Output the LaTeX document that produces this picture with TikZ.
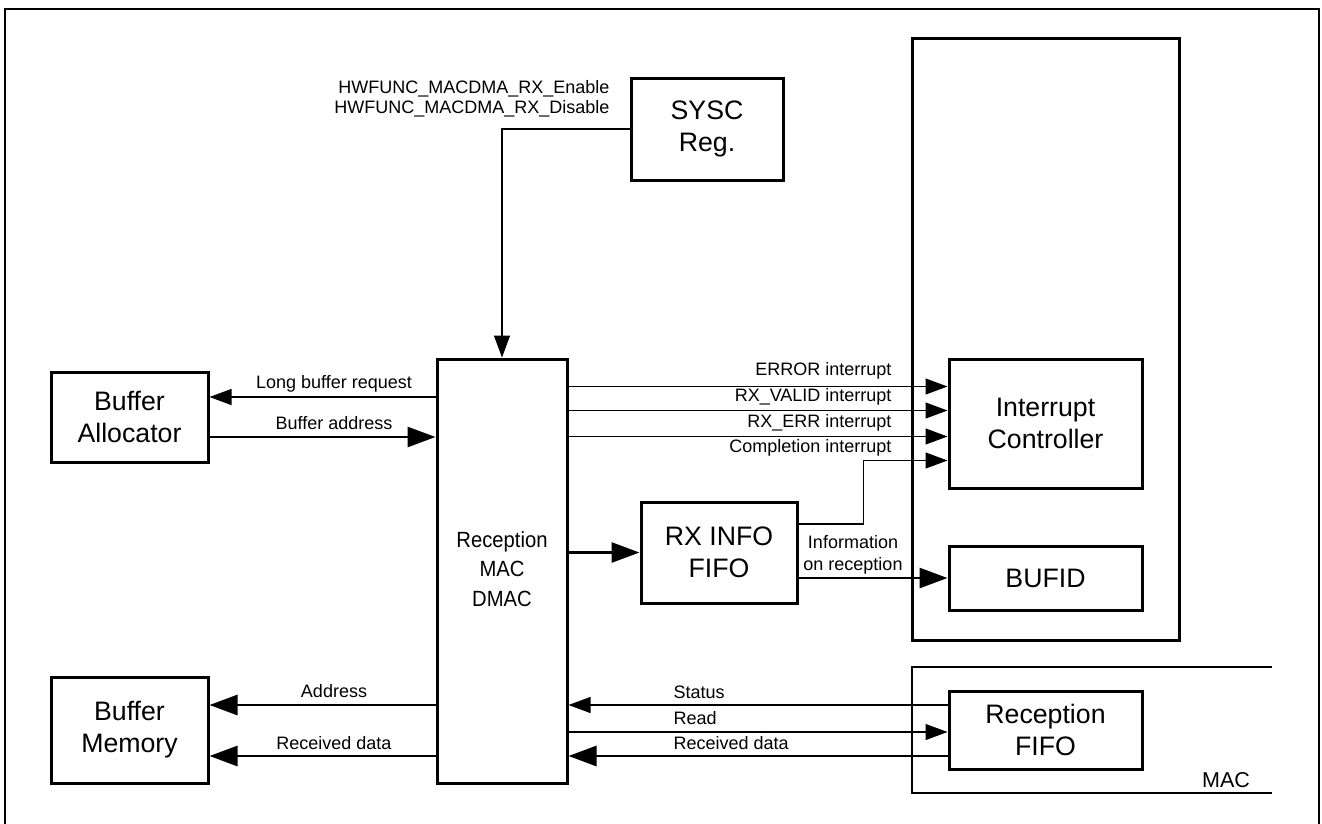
\documentclass[tikz,border=0pt]{standalone}
\usepackage{fontspec}
\usepackage{graphicx}
\setmainfont{Liberation Sans}
\usetikzlibrary{arrows.meta}

\tikzset{every picture/.style={line width=1pt},
	blk/.style={draw, line width=3pt, inner sep=0pt, align=center, font=\fontsize{26.7}{32}\selectfont},
	lbl/.style={inner sep=0pt, font=\fontsize{18}{22}\selectfont},
	sig/.style={line width=1.1pt, -{Triangle[length=22pt,width=16pt]}},
	bus/.style={line width=2.9pt, -{Triangle[length=28pt,width=20pt]}}
}

\begin{document}
\begin{tikzpicture}[x=1pt,y=1pt,yscale=-1,xscale=1]
	\useasboundingbox (0,0) rectangle (1322,823);
	
	%Shape: Frame
	\draw [line width=1.8pt] (5,830) -- (5,9) -- (1319,9) -- (1319,830) ;
	%Shape: Rectangle (outer block, right)
	\node [blk, minimum width=267pt, minimum height=602pt] (cpu) at (1045.5,339) {};
	%Shape: MAC bracket
	\draw [line width=2.5pt] (1272,667) -- (912,667) -- (912,793) -- (1272,793) ;
	\node [inner sep=0pt, font=\fontsize{21.5}{26}\selectfont] (mac) at (1226,780) {MAC};
	
	%Shape: Rectangle
	\node [blk, minimum width=152pt, minimum height=102pt] (sysc) at (707,129) {SYSC\\Reg.};
	%Shape: Rectangle
	\node [blk, minimum width=157pt, minimum height=90pt] (alloc) at (129.5,417) {Buffer\\Allocator};
	%Shape: Rectangle
	\node [blk, minimum width=157pt, minimum height=106pt] (bufmem) at (129.5,730) {Buffer\\Memory};
	%Shape: Rectangle
	\node [blk, minimum width=130pt, minimum height=424pt, font=\fontsize{22}{29.5}\selectfont] (dmac) at (502,571)
		{\scalebox{0.92}[1]{\begin{tabular}{@{}c@{}}Reception\\MAC\\DMAC\end{tabular}}};
	%Shape: Rectangle
	\node [blk, minimum width=156pt, minimum height=101pt] (rxinfo) at (719,552.5) {RX INFO\\FIFO};
	%Shape: Rectangle
	\node [blk, minimum width=193pt, minimum height=129pt] (intc) at (1045.5,423.5) {Interrupt\\Controller};
	%Shape: Rectangle
	\node [blk, minimum width=193pt, minimum height=64pt] (bufid) at (1045.5,578) {BUFID};
	%Shape: Rectangle
	\node [blk, minimum width=193pt, minimum height=78pt] (rxfifo) at (1045.5,730) {Reception\\FIFO};
	
	% port coordinates
	\coordinate (areq) at ([yshift=-20pt]alloc.east);
	\coordinate (aadr) at ([yshift=20pt]alloc.east);
	\coordinate (madr) at ([yshift=-25pt]bufmem.east);
	\coordinate (mdat) at ([yshift=26pt]bufmem.east);
	\coordinate (ierr) at ([yshift=-37pt]intc.west);
	\coordinate (ival) at ([yshift=-13pt]intc.west);
	\coordinate (irxe) at ([yshift=13pt]intc.west);
	\coordinate (icmp) at ([yshift=37pt]intc.west);
	\coordinate (fsta) at ([yshift=-25pt]rxfifo.west);
	\coordinate (frd) at ([yshift=2pt]rxfifo.west);
	\coordinate (fdat) at ([yshift=26pt]rxfifo.west);
	
	%Straight Lines: SYSC to DMAC
	\draw [sig] (sysc.west) -| (dmac.north) ;
	%Straight Lines: buffer allocator
	\draw [sig] (dmac.west |- areq) -- (areq) ;
	\draw [bus] (aadr) -- (dmac.west |- aadr) ;
	%Straight Lines: buffer memory
	\draw [bus] (dmac.west |- madr) -- (madr) ;
	\draw [bus] (dmac.west |- mdat) -- (mdat) ;
	%Straight Lines: interrupts
	\draw [sig] (dmac.east |- ierr) -- (ierr) ;
	\draw [sig] (dmac.east |- ival) -- (ival) ;
	\draw [sig] (dmac.east |- irxe) -- (irxe) ;
	\draw [sig] ([yshift=-28.5pt]rxinfo.east) -- ++(65,0) |- (icmp) ;
	%Straight Lines: RX INFO FIFO
	\draw [bus] (dmac.east |- rxinfo.west) -- (rxinfo.west) ;
	\draw [bus] (rxinfo.east |- bufid.west) -- (bufid.west) ;
	%Straight Lines: reception FIFO
	\draw [sig] (fsta) -- (dmac.east |- fsta) ;
	\draw [sig] (dmac.east |- frd) -- (frd) ;
	\draw [bus] (fdat) -- (dmac.east |- fdat) ;
	
	% Text Node
	\node [lbl, anchor=east, align=right, font=\fontsize{18}{20}\selectfont] (ctrl) at (610,99) {HWFUNC\_MACDMA\_RX\_Enable\\HWFUNC\_MACDMA\_RX\_Disable};
	% Text Node
	\node [lbl] (lreq) at (334,384) {Long buffer request};
	% Text Node
	\node [lbl] (laddr) at (334,423) {Buffer address};
	% Text Node
	\node [lbl] (maddr) at (334,691) {Address};
	% Text Node
	\node [lbl] (mdata) at (334,743) {Received data};
	% Text Node
	\node [lbl, anchor=east] (terr) at (892,371) {ERROR interrupt};
	% Text Node
	\node [lbl, anchor=east] (tval) at (892,397) {RX\_VALID interrupt};
	% Text Node
	\node [lbl, anchor=east] (trxe) at (892,423) {RX\_ERR interrupt};
	% Text Node
	\node [lbl, anchor=east] (tcmp) at (892,448) {Completion interrupt};
	% Text Node
	\node [lbl, align=center] (info) at (853,555) {Information\\on reception};
	% Text Node
	\node [lbl, anchor=west] (tsta) at (673,692) {Status};
	% Text Node
	\node [lbl, anchor=west] (trd) at (673,718) {Read};
	% Text Node
	\node [lbl, anchor=west] (tdat) at (673,743) {Received data};
	
\end{tikzpicture}
\end{document}
